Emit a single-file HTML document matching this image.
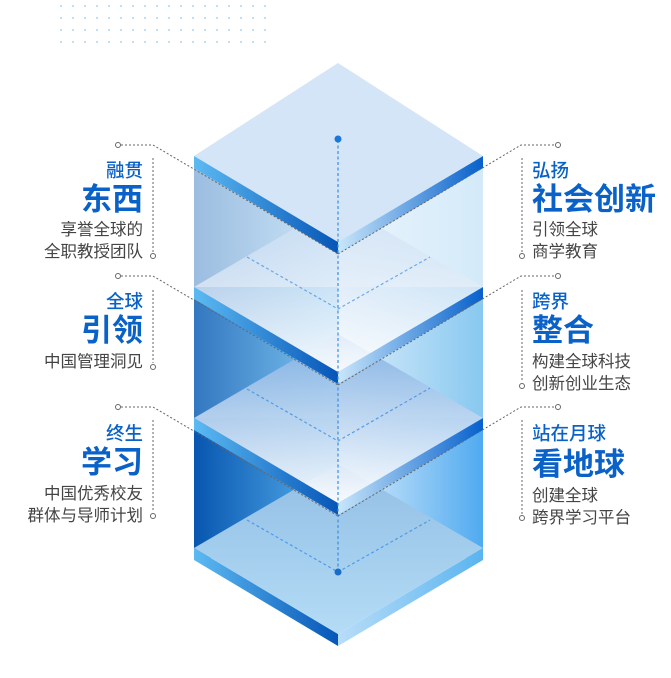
<!DOCTYPE html>
<html><head><meta charset="utf-8"><style>
html,body{margin:0;padding:0;background:#fff;}
svg{display:block}
text{font-family:"Liberation Sans","Noto Sans CJK SC",sans-serif;}
.t1{fill:#0a62c8;font-size:18.5px;font-weight:500}
.t2{fill:#0a62c8;font-size:31px;font-weight:700}
.t3{fill:#444;font-size:16.5px}
</style></head><body>
<svg width="671" height="678" viewBox="0 0 671 678" xmlns="http://www.w3.org/2000/svg">
<defs>
<pattern id="dots" x="60" y="5" width="12" height="12" patternUnits="userSpaceOnUse"><rect x="0" y="0" width="2" height="2" fill="#bfe0f8"/></pattern>
<linearGradient id="w1l" x1="0" x2="1"><stop offset="0" stop-color="#9bbde0"/><stop offset="1" stop-color="#cfe7f9"/></linearGradient>
<linearGradient id="w1r" x1="0" x2="1"><stop offset="0" stop-color="#eaf5fd"/><stop offset="1" stop-color="#d4eaf9"/></linearGradient>
<linearGradient id="w2l" x1="0" x2="1"><stop offset="0" stop-color="#3377c0"/><stop offset="1" stop-color="#80c8f2"/></linearGradient>
<linearGradient id="w2r" x1="0" x2="1"><stop offset="0" stop-color="#dceefb"/><stop offset="1" stop-color="#88c8f0"/></linearGradient>
<linearGradient id="w3l" x1="0" x2="1"><stop offset="0" stop-color="#0856b0"/><stop offset="1" stop-color="#5ab4ee"/></linearGradient>
<linearGradient id="w3r" x1="0" x2="1"><stop offset="0" stop-color="#dff0fc"/><stop offset="1" stop-color="#50aaf0"/></linearGradient>
<linearGradient id="el" x1="0" x2="1"><stop offset="0" stop-color="#5cbaf2"/><stop offset="1" stop-color="#0656b8"/></linearGradient>
<linearGradient id="er" x1="0" x2="1"><stop offset="0" stop-color="#c8e6fa"/><stop offset="1" stop-color="#0660cc"/></linearGradient>
<linearGradient id="er4" x1="0" x2="1"><stop offset="0" stop-color="#b8ddf8"/><stop offset="1" stop-color="#5ab4f0"/></linearGradient>
<linearGradient id="p2" x1="0" y1="0" x2="0" y2="1"><stop offset="0" stop-color="#c8dcf2" stop-opacity="0.7"/><stop offset="1" stop-color="#ffffff"/></linearGradient>
<linearGradient id="p3" x1="0" y1="0" x2="0" y2="1"><stop offset="0" stop-color="#7eaee2"/><stop offset="1" stop-color="#ffffff"/></linearGradient>
<linearGradient id="p4" x1="0" y1="0" x2="0" y2="1"><stop offset="0" stop-color="#92bee4"/><stop offset="1" stop-color="#b4dcf6"/></linearGradient>
</defs>
<rect x="60" y="5" width="206" height="40" fill="url(#dots)"/>

<rect x="194" y="156" width="144" height="140" fill="url(#w1l)"/>
<rect x="338" y="156" width="145" height="140" fill="url(#w1r)"/>
<rect x="194" y="287" width="144" height="140" fill="url(#w2l)"/>
<rect x="338" y="287" width="145" height="140" fill="url(#w2r)"/>
<rect x="194" y="418" width="144" height="140" fill="url(#w3l)"/>
<rect x="338" y="418" width="145" height="140" fill="url(#w3r)"/>

<polygon points="194,548 338,634 338,646 194,560" fill="url(#el)"/>
<polygon points="338,634 483,548 483,560 338,646" fill="url(#er4)"/>
<polygon points="338,464 483,548 338,634 194,548" fill="url(#p4)"/>
<polygon points="194,418 338,503 338,515 194,430" fill="url(#el)"/>
<polygon points="338,503 483,418 483,430 338,515" fill="url(#er)"/>
<polygon points="338,334 483,418 338,503 194,418" fill="url(#p3)" opacity="0.92"/>
<polygon points="194,287 338,372 338,384 194,299" fill="url(#el)"/>
<polygon points="338,372 483,287 483,299 338,384" fill="url(#er)"/>
<polygon points="338,203 483,287 338,372 194,287" fill="url(#p2)" opacity="0.9"/>
<polygon points="194,156 338,242 338,254 194,168" fill="url(#el)"/>
<polygon points="338,242 483,156 483,168 338,254" fill="url(#er)"/>
<polygon points="338,63 483,156 338,242 194,156" fill="#d3e5f6"/>

<g stroke="#3a8ee6" stroke-width="1.2" stroke-dasharray="3,2.5" fill="none">
<line x1="338" y1="140" x2="338" y2="572"/>
<polyline points="247,257 338,309 430,257" opacity="0.7"/>
<polyline points="247,389 338,441 430,388" opacity="0.8"/>
<polyline points="247,520 338,572 430,520" opacity="0.8"/>
</g>
<circle cx="338" cy="139" r="3.5" fill="#1a78d8"/>
<circle cx="338" cy="572" r="3.5" fill="#1a6cc8"/>

<g stroke="#666" stroke-width="1" stroke-dasharray="2,2" fill="none">
<polyline points="121,145 153,145 338,254"/>
<line x1="153" y1="158" x2="153" y2="252"/>
<polyline points="121,276 153,276 338,385"/>
<line x1="153" y1="290" x2="153" y2="363"/>
<polyline points="121,407 153,407 338,516"/>
<line x1="153" y1="420" x2="153" y2="512"/>
<polyline points="554,145 521,145 338,254"/>
<line x1="522" y1="158" x2="522" y2="252"/>
<polyline points="554,276 521,276 338,385"/>
<line x1="522" y1="290" x2="522" y2="382"/>
<polyline points="554,407 521,407 338,516"/>
<line x1="522" y1="420" x2="522" y2="514"/>
</g>
<g stroke="#666" stroke-width="1" fill="#fff">
<circle cx="118" cy="145" r="2.5"/><circle cx="153" cy="256" r="2.5"/>
<circle cx="118" cy="276" r="2.5"/><circle cx="153" cy="367" r="2.5"/>
<circle cx="118" cy="407" r="2.5"/><circle cx="153" cy="516" r="2.5"/>
<circle cx="558" cy="145" r="2.5"/><circle cx="522" cy="256" r="2.5"/>
<circle cx="558" cy="276" r="2.5"/><circle cx="522" cy="386" r="2.5"/>
<circle cx="558" cy="407" r="2.5"/><circle cx="522" cy="518" r="2.5"/>
</g>

<g text-anchor="end">
<text class="t1" x="143" y="177">融贯</text>
<text class="t2" x="143" y="210">东西</text>
<text class="t3" x="143" y="235">享誉全球的</text>
<text class="t3" x="143" y="257">全职教授团队</text>
<text class="t1" x="143" y="308">全球</text>
<text class="t2" x="143" y="341">引领</text>
<text class="t3" x="143" y="367">中国管理洞见</text>
<text class="t1" x="143" y="440">终生</text>
<text class="t2" x="143" y="473">学习</text>
<text class="t3" x="143" y="499">中国优秀校友</text>
<text class="t3" x="143" y="521">群体与导师计划</text>
</g>
<g>
<text class="t1" x="532" y="177">弘扬</text>
<text class="t2" x="532" y="210">社会创新</text>
<text class="t3" x="532" y="235">引领全球</text>
<text class="t3" x="532" y="257">商学教育</text>
<text class="t1" x="532" y="308">跨界</text>
<text class="t2" x="532" y="341">整合</text>
<text class="t3" x="532" y="367">构建全球科技</text>
<text class="t3" x="532" y="389">创新创业生态</text>
<text class="t1" x="532" y="440">站在月球</text>
<text class="t2" x="532" y="475">看地球</text>
<text class="t3" x="532" y="501">创建全球</text>
<text class="t3" x="532" y="523">跨界学习平台</text>
</g>
</svg>
</body></html>
